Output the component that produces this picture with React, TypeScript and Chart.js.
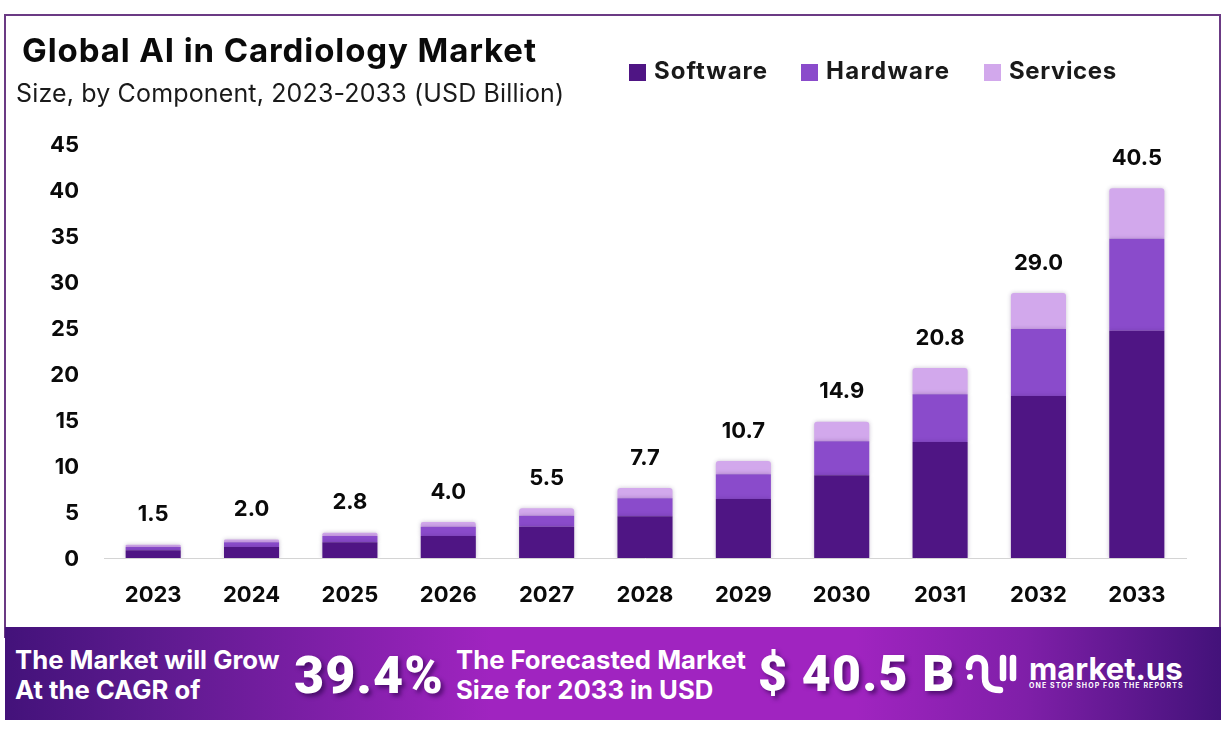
import { useEffect, useRef } from "react"
import { Chart, registerables } from "chart.js"

Chart.register(...registerables)

const years = ["2023", "2024", "2025", "2026", "2027", "2028", "2029", "2030", "2031", "2032", "2033"]
const software = [0.85, 1.2, 1.7, 2.4, 3.4, 4.55, 6.4, 9.0, 12.6, 17.6, 24.7]
const hardware = [0.35, 0.5, 0.7, 1.0, 1.2, 1.95, 2.7, 3.7, 5.2, 7.3, 10.0]
const services = [0.25, 0.3, 0.35, 0.5, 0.8, 1.1, 1.45, 2.1, 2.85, 3.9, 5.5]
const totals = ["1.5", "2.0", "2.8", "4.0", "5.5", "7.7", "10.7", "14.9", "20.8", "29.0", "40.5"]

const seriesNames = ["Software", "Hardware", "Services"]
const seriesColors = ["#4f1584", "#8a4bcb", "#d2a8ec"]

const FONT = "Inter, 'Open Sans', sans-serif"

// total above each stack
const totalLabels = {
  id: "totalLabels",
  afterDatasetsDraw(chart: Chart) {
    const { ctx } = chart
    const top = chart.getDatasetMeta(2).data
    ctx.save()
    ctx.font = `700 22px ${FONT}`
    ctx.fillStyle = "#0a0a0a"
    ctx.textAlign = "center"
    ctx.textBaseline = "middle"
    top.forEach((bar, i) => {
      ctx.fillText(totals[i], bar.x, bar.y - 30)
    })
    ctx.restore()
  },
}

// soft shadow around the bars
const barShadow = {
  id: "barShadow",
  beforeDatasetDraw(chart: Chart) {
    const { ctx } = chart
    ctx.save()
    ctx.shadowColor = "rgba(60,30,90,0.28)"
    ctx.shadowBlur = 4
  },
  afterDatasetDraw(chart: Chart) {
    chart.ctx.restore()
  },
}

function Bars() {
  const chartRef = useRef<HTMLCanvasElement>(null)

  useEffect(() => {
    if (!chartRef.current) return
    const chart = new Chart(chartRef.current, {
      type: "bar",
      data: {
        labels: years,
        datasets: [software, hardware, services].map((values, i) => ({
          label: seriesNames[i],
          data: values,
          backgroundColor: seriesColors[i],
          borderWidth: 0,
          borderSkipped: false,
          borderRadius: i === 2 ? { topLeft: 3, topRight: 3, bottomLeft: 0, bottomRight: 0 } : 0,
          barPercentage: 0.56,
          categoryPercentage: 1,
        })),
      },
      options: {
        animation: false,
        responsive: false,
        layout: { padding: { top: 144, left: 0, right: 36, bottom: 0 } },
        plugins: { legend: { display: false }, title: { display: false }, tooltip: { enabled: false } },
        scales: {
          x: {
            stacked: true,
            grid: { display: false, drawTicks: false },
            border: { color: "#d4d4d4", width: 1 },
            ticks: { color: "#0a0a0a", padding: 24, maxRotation: 0, font: { family: FONT, size: 22, weight: 700 } },
            afterFit(scale: any) {
              scale.height = 177
            },
          },
          y: {
            stacked: true,
            min: 0,
            max: 45,
            grid: { display: false, drawTicks: false },
            border: { display: false },
            ticks: { stepSize: 5, color: "#0a0a0a", padding: 25, labelOffset: 1, font: { family: FONT, size: 22, weight: 700 } },
            afterFit(scale: any) {
              scale.width = 104
            },
          },
        },
      },
      plugins: [barShadow, totalLabels],
    })
    return () => chart.destroy()
  }, [])

  return <canvas ref={chartRef} width={1222} height={735} style={{ position: "absolute", left: 0, top: 0 }} />
}

const abs = (left: number, top: number, size: number, weight: number, extra = {}) => ({
  position: "absolute" as const,
  left,
  top,
  fontSize: size,
  fontWeight: weight,
  lineHeight: 1,
  whiteSpace: "nowrap" as const,
  ...extra,
})

const bigShadow = { color: "#fff", fontFamily: "Roboto, sans-serif", textShadow: "3px 3px 4px rgba(40,0,70,0.6)" }

export default function App() {
  return (
    <div style={{ position: "relative", width: 1222, height: 735, background: "#fff", fontFamily: FONT, overflow: "hidden" }}>
      <style>{"body{margin:0}"}</style>
      <div style={{ position: "absolute", left: 4, top: 14, width: 1213, height: 620, border: "2px solid #6b3a84", boxSizing: "content-box" }} />
      <Bars />

      <div style={abs(22, 34, 33, 700, { color: "#0a0a0a", letterSpacing: 0.9 })}>Global AI in Cardiology Market</div>
      <div style={abs(16, 81, 25, 400, { color: "#1a1a1a", letterSpacing: 0.15 })}>Size, by Component, 2023-2033 (USD Billion)</div>

      {seriesNames.map((name, i) => (
        <div key={name}>
          <div style={{ position: "absolute", left: [629, 801, 984][i], top: 64, width: 17, height: 17, background: seriesColors[i] }} />
          <div style={abs([654, 826, 1009][i], 59, 24, 700, { color: "#1a1a1a", letterSpacing: [1, 1.3, 0.6][i] })}>{name}</div>
        </div>
      ))}

      <div
        style={{
          position: "absolute",
          left: 5,
          top: 627,
          width: 1216,
          height: 93,
          background: "linear-gradient(90deg, #43127a 0%, #5c1a8e 12%, #a024c0 40%, #a024c0 70%, #7f1fa8 84%, #43127a 100%)",
        }}
      />
      <div style={abs(15, 647, 25.7, 700, { color: "#fff" })}>The Market will Grow</div>
      <div style={abs(15, 677, 25.7, 700, { color: "#fff" })}>At the CAGR of</div>
      <div style={abs(294, 650, 52, 900, { ...bigShadow, letterSpacing: 1 })}>39.4%</div>
      <div style={abs(456, 647, 25.7, 700, { color: "#fff" })}>The Forecasted Market</div>
      <div style={abs(456, 677, 25.7, 700, { color: "#fff" })}>Size for 2033 in USD</div>
      <div style={abs(758, 649, 50, 900, { ...bigShadow, letterSpacing: 1.2 })}>$ 40.5 B</div>

      <svg style={{ position: "absolute", left: 964, top: 652 }} width="56" height="46" viewBox="0 0 56 46" fill="none" stroke="#fff" strokeWidth="6.5" strokeLinecap="round">
        <circle cx="6" cy="25" r="3" fill="#fff" stroke="none" />
        <path d="M5 15 C5 3 21 3 21 15 L21 26 C21 36 29 38 36 38" />
        <path d="M39 6 L39 26" />
        <path d="M49 6 L49 26" />
      </svg>
      <div style={abs(1029, 653, 31, 700, { color: "#fff" })}>market.us</div>
      <div style={abs(1029, 682, 7, 700, { color: "#fff", letterSpacing: 1.1 })}>ONE STOP SHOP FOR THE REPORTS</div>
    </div>
  )
}
